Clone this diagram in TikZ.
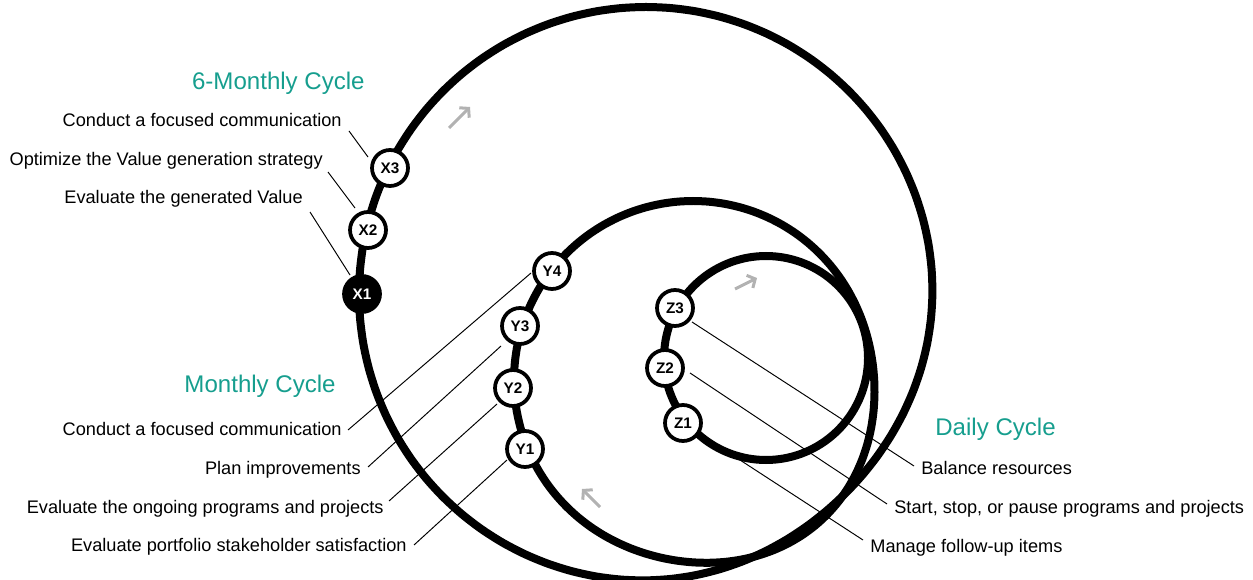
\documentclass[tikz,border=0pt]{standalone}
\usepackage{fontspec}
\setmainfont{Liberation Sans}
\usetikzlibrary{arrows.meta}
\definecolor{cycleteal}{RGB}{22,158,142}
\definecolor{cyclegray}{RGB}{178,178,178}
\begin{document}
\begin{tikzpicture}[x=0.02cm,y=-0.02cm,
  loopline/.style={line width=0.16cm, black},
  stage/.style={circle, draw=black, line width=0.075cm, fill=white, minimum size=0.72cm, inner sep=0pt, font=\fontsize{8.7}{10}\selectfont\bfseries},
  stagedark/.style={stage, fill=black, text=white},
  lbl/.style={font=\fontsize{10.35}{12}\selectfont, inner sep=0pt, text=black},
  ttl/.style={font=\fontsize{13.7}{16}\selectfont, inner sep=0pt, text=cycleteal},
  leader/.style={line width=0.55pt, black},
  dirarrow/.style={line width=0.06cm, cyclegray, -{Straight Barb[length=3.5pt,width=8pt]}}
]
\useasboundingbox (0,0) rectangle (1253,580);

% titles
\node[ttl, anchor=base east] (t6) at (365,90) {6-Monthly Cycle};
\node[ttl, anchor=base east] (tm) at (336,393) {Monthly Cycle};
\node[ttl, anchor=base west] (td) at (935,436) {Daily Cycle};

% labels
\node[lbl, anchor=base east] (lx3) at (342,127) {Conduct a focused communication};
\node[lbl, anchor=base east] (lx2) at (323,166) {Optimize the Value generation strategy};
\node[lbl, anchor=base east] (lx1) at (303,204) {Evaluate the generated Value};
\node[lbl, anchor=base east] (ly4) at (342,436) {Conduct a focused communication};
\node[lbl, anchor=base east] (ly3) at (361,474) {Plan improvements};
\node[lbl, anchor=base east] (ly2) at (384,513) {Evaluate the ongoing programs and projects};
\node[lbl, anchor=base east] (ly1) at (407,551) {Evaluate portfolio stakeholder satisfaction};
\node[lbl, anchor=base west] (lz3) at (921,474) {Balance resources};
\node[lbl, anchor=base west] (lz2) at (894,513) {Start, stop, or pause programs and projects};
\node[lbl, anchor=base west] (lz1) at (870,552) {Manage follow-up items};

% leader coordinates
\coordinate (cx3a) at (349,131); \coordinate (cx3b) at (368,157);
\coordinate (cx2a) at (328,172); \coordinate (cx2b) at (355,208);
\coordinate (cx1a) at (310,212); \coordinate (cx1b) at (350,275);
\coordinate (cy4a) at (348,430); \coordinate (cy4b) at (531,273);
\coordinate (cy3a) at (368,467); \coordinate (cy3b) at (501,346);
\coordinate (cy2a) at (389,501); \coordinate (cy2b) at (497,404);
\coordinate (cy1a) at (414,545); \coordinate (cy1b) at (507,460);
\coordinate (cz3a) at (692,322); \coordinate (cz3b) at (914,466);
\coordinate (cz2a) at (690,373); \coordinate (cz2b) at (887,504);
\coordinate (cz1a) at (700,434); \coordinate (cz1b) at (863,540);

\draw[leader] (cx3a) -- (cx3b);
\draw[leader] (cx2a) -- (cx2b);
\draw[leader] (cx1a) -- (cx1b);
\draw[leader] (cy4a) -- (cy4b);
\draw[leader] (cy3a) -- (cy3b);
\draw[leader] (cy2a) -- (cy2b);
\draw[leader] (cy1a) -- (cy1b);
\draw[leader] (cz3a) -- (cz3b);
\draw[leader] (cz2a) -- (cz2b);
\draw[leader] (cz1a) -- (cz1b);

% loops
\draw[loopline] plot[smooth cycle, domain=0:355, samples=72, variable=\t]
  ({646+(287-5*(max(0,cos(\t-45)))^6)*cos(\t)}, {294+(287-5*(max(0,cos(\t-45)))^6)*sin(\t)});
\draw[loopline] plot[smooth cycle, domain=0:355, samples=72, variable=\t]
  ({693+(179+11*(max(0,cos(\t-48)))^4)*cos(\t)}, {380+(179+11*(max(0,cos(\t-48)))^4)*sin(\t)});
\draw[loopline] plot[smooth cycle, domain=0:355, samples=72, variable=\t]
  ({766+102*cos(\t)}, {358+102*sin(\t)});

% direction arrows
\coordinate (a1s) at (449,128); \coordinate (a1e) at (470,107);
\coordinate (a2s) at (735,289); \coordinate (a2e) at (757,278);
\coordinate (a3s) at (600,507); \coordinate (a3e) at (582,489);
\draw[dirarrow] (a1s) -- (a1e);
\draw[dirarrow] (a2s) -- (a2e);
\draw[dirarrow] (a3s) -- (a3e);

% stages
\node[stagedark] (X1) at (362,294) {X1};
\node[stage] (X2) at (368,230) {X2};
\node[stage] (X3) at (390,168) {X3};
\node[stage] (Y1) at (525,449) {Y1};
\node[stage] (Y2) at (513,388) {Y2};
\node[stage] (Y3) at (520,326) {Y3};
\node[stage] (Y4) at (552,271) {Y4};
\node[stage] (Z1) at (683,423) {Z1};
\node[stage] (Z2) at (665,368) {Z2};
\node[stage] (Z3) at (675,308) {Z3};
\end{tikzpicture}
\end{document}
